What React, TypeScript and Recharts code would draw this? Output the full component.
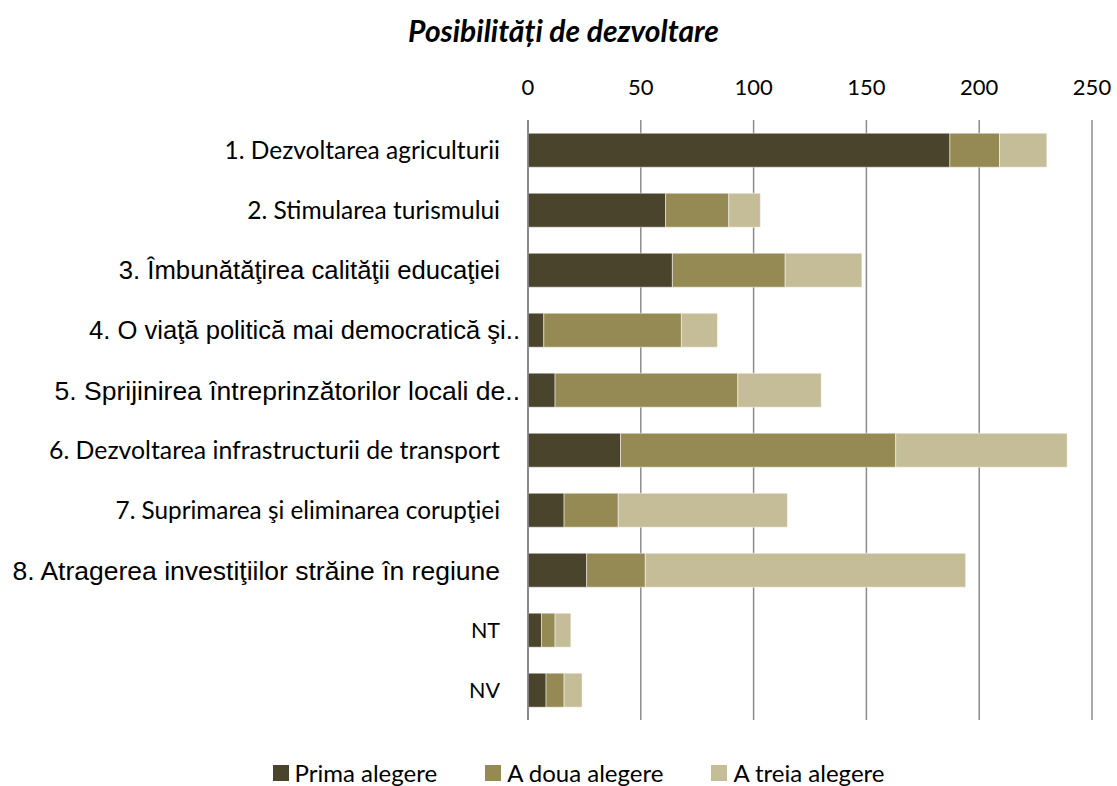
import React from "react";
import {
    BarChart,
    Bar,
    XAxis,
    YAxis,
    CartesianGrid,
    Legend,
} from "recharts";

const categories = [
    "1. Dezvoltarea agriculturii",
    "2. Stimularea turismului",
    "3. Îmbunătăţirea calităţii educaţiei",
    "4. O viaţă politică mai democratică şi..",
    "5. Sprijinirea întreprinzătorilor locali de..",
    "6. Dezvoltarea infrastructurii de transport",
    "7. Suprimarea şi eliminarea corupţiei",
    "8. Atragerea investiţiilor străine în regiune",
    "NT",
    "NV",
];
const prima = [187, 61, 64, 7, 12, 41, 16, 26, 6, 8];
const aDoua = [22, 28, 50, 61, 81, 122, 24, 26, 6, 8];
const aTreia = [21, 14, 34, 16, 37, 76, 75, 142, 7, 8];
const xTicks = [0, 50, 100, 150, 200, 250];
const seriesOrder = ["prima", "aDoua", "aTreia"];

const data = categories.map((name, i) => ({
    name,
    prima: prima[i],
    aDoua: aDoua[i],
    aTreia: aTreia[i],
}));

const CALIBRI = "Lato, 'Open Sans', sans-serif";
const ARIAL = "'Liberation Sans', Arial, sans-serif";

// the source sheet mixes fonts and sizes between the labels
const tickLook: { font: string; size: number; shift?: number }[] = [
    { font: CALIBRI, size: 24.5 },
    { font: CALIBRI, size: 24.5 },
    { font: ARIAL, size: 25.7 },
    { font: ARIAL, size: 25.6, shift: 20 },
    { font: ARIAL, size: 26.5, shift: 20 },
    { font: CALIBRI, size: 24.8 },
    { font: CALIBRI, size: 24.3 },
    { font: ARIAL, size: 26.5 },
    { font: CALIBRI, size: 21.5 },
    { font: CALIBRI, size: 21.5 },
];

function CategoryTick(props: any) {
    const { x, y, payload, index } = props;
    const look = tickLook[index] || tickLook[0];
    return (
        <text
            x={x + (look.shift || 0)}
            y={y}
            dy={look.size * 0.36}
            textAnchor="end"
            fill="#000"
            fontFamily={look.font}
            fontSize={look.size}
        >
            {payload.value}
        </text>
    );
}

function LegendBox(props: any) {
    const items = [...(props.payload || [])].sort(
        (a: any, b: any) => seriesOrder.indexOf(a.dataKey) - seriesOrder.indexOf(b.dataKey)
    );
    return (
        <div style={{ display: "flex", justifyContent: "center", gap: 48, paddingLeft: 40, fontFamily: CALIBRI, fontSize: 24, lineHeight: "30px" }}>
            {items.map((it: any) => (
                <div key={it.value} style={{ display: "flex", alignItems: "center" }}>
                    <span style={{ width: 16, height: 16, background: it.color, marginRight: 6, display: "inline-block" }} />
                    <span style={{ color: "#000" }}>{it.value}</span>
                </div>
            ))}
        </div>
    );
}

export default function App() {
    return (
        <div style={{ position: "absolute", left: 0, top: 0, width: 1117, height: 786, background: "#fff" }}>
            <div
                style={{
                    position: "absolute",
                    left: 0,
                    width: 1117,
                    top: 12,
                    textAlign: "center",
                    fontFamily: CALIBRI,
                    fontWeight: "bold",
                    fontStyle: "italic",
                    fontSize: 30,
                    paddingLeft: 10,
                    boxSizing: "border-box",
                }}
            >
                Posibilități de dezvoltare
            </div>
            <BarChart
                width={1117}
                height={786}
                data={data}
                layout="vertical"
                margin={{ top: 80, right: 25, bottom: 36, left: 0 }}
                barCategoryGap="22%"
            >
                <CartesianGrid horizontal={false} stroke="#8c8c8c" strokeWidth={1.5} />
                <XAxis
                    type="number"
                    orientation="top"
                    domain={[0, 250]}
                    ticks={xTicks}
                    height={40}
                    axisLine={false}
                    tickLine={false}
                    tickSize={0}
                    tickMargin={25}
                    tick={{ fill: "#000", fontSize: 22, fontFamily: CALIBRI }}
                />
                <YAxis
                    type="category"
                    dataKey="name"
                    width={528}
                    axisLine={{ stroke: "#7f7f7f", strokeWidth: 1.5 }}
                    tickLine={false}
                    tickSize={0}
                    tickMargin={28}
                    interval={0}
                    tick={<CategoryTick />}
                />
                <Legend
                    verticalAlign="bottom"
                    content={<LegendBox />}
                    wrapperStyle={{ top: 758, bottom: "auto", left: 0, width: 1117 }}
                />
                <Bar dataKey="prima" name="Prima alegere" stackId="a" fill="#4a442d" stroke="#fff" strokeWidth={0.5} isAnimationActive={false} />
                <Bar dataKey="aDoua" name="A doua alegere" stackId="a" fill="#958a54" stroke="#fff" strokeWidth={0.5} isAnimationActive={false} />
                <Bar dataKey="aTreia" name="A treia alegere" stackId="a" fill="#c5bd98" stroke="#fff" strokeWidth={0.5} isAnimationActive={false} />
            </BarChart>
        </div>
    );
}
